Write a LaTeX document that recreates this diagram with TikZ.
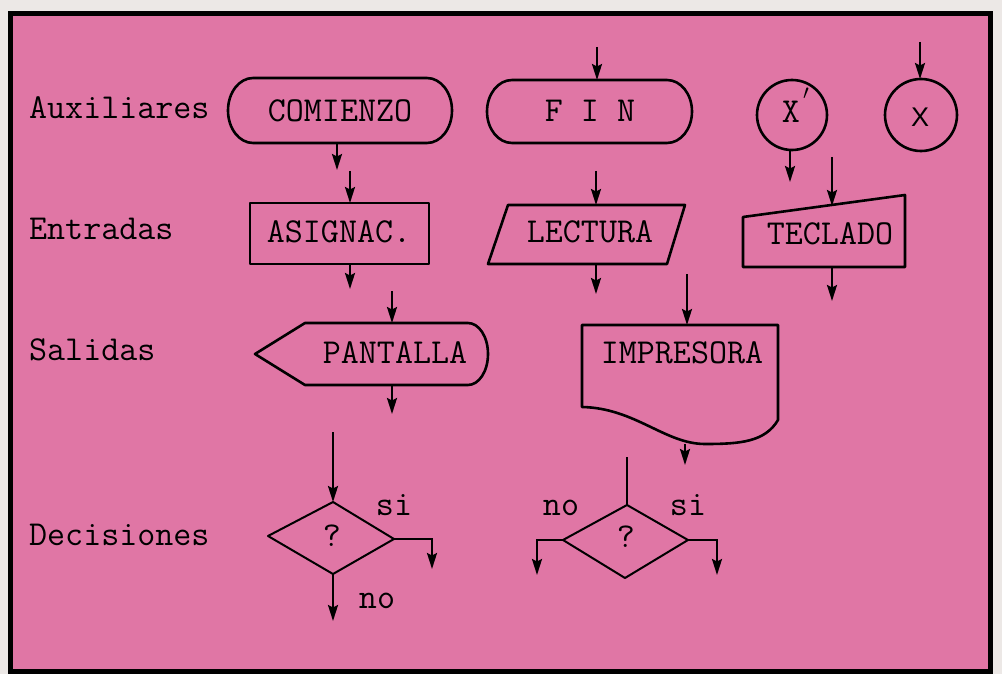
\documentclass[tikz,border=0pt]{standalone}
\usepackage{fontspec}
\setsansfont{Liberation Sans}
\usetikzlibrary{arrows.meta}
\definecolor{paper}{RGB}{236,232,230}
\definecolor{pinkbg}{RGB}{224,118,165}
\begin{document}
\begin{tikzpicture}[x=1pt,y=-1pt,
  shp/.style={draw=black,line width=2.6pt,line join=round},
  thin/.style={draw=black,line width=2pt,line join=round},
  arr/.style={draw=black,line width=2.2pt,-{Stealth[length=16pt,width=10pt,inset=2.5pt]}},
  lnk/.style={draw=black,line width=2.2pt},
  txt/.style={font=\ttfamily\fontsize{35pt}{37pt}\selectfont,inner sep=0pt,anchor=base,text=black},
  side/.style={txt,anchor=base west}]
\useasboundingbox (0,0) rectangle (1002,674);
\fill[paper] (0,0) rectangle (1002,674);
\filldraw[fill=pinkbg,draw=black,line width=5pt] (10,14) rectangle (990,671);

% row labels
\node[side] (aux) at (29,119) {Auxiliares};
\node[side] (ent) at (29,240) {Entradas};
\node[side] (sal) at (29,360) {Salidas};
\node[side] (dec) at (29,545) {Decisiones};

% ---- Auxiliares ----
\draw[shp] (253,78) -- (427,78) arc[start angle=-90,end angle=90,x radius=25,y radius=32.5]
  -- (253,143) arc[start angle=90,end angle=270,x radius=25,y radius=32.5] -- cycle;
\node[txt] (comienzo) at (340,122) {COMIENZO};
\coordinate (com-b) at (337,143);
\coordinate (com-o) at (337,170);

\draw[shp] (512,80) -- (667,80) arc[start angle=-90,end angle=90,x radius=25,y radius=31.5]
  -- (512,143) arc[start angle=90,end angle=270,x radius=25,y radius=31.5] -- cycle;
\node[txt] (fin) at (590,122) {F I N};
\coordinate (fin-i) at (597,47);
\coordinate (fin-t) at (597,80);

\draw[shp] (792,115) circle[radius=35];
\node[txt] (xp) at (791,123) {X};
\node[inner sep=0pt,font=\fontsize{20pt}{20pt}\selectfont] (prime) at (806,94) {$\prime$};
\coordinate (xp-b) at (790,150);
\coordinate (xp-o) at (790,182);

\draw[shp] (921,115) circle[radius=36];
\node[inner sep=0pt,anchor=base,font=\sffamily\fontsize{27pt}{27pt}\selectfont] (x) at (920,127) {X};
\coordinate (x-i) at (920,42);
\coordinate (x-t) at (920,79);

\draw[arr] (fin-i) -- (fin-t);
\draw[arr] (x-i) -- (x-t);
\draw[arr] (com-b) -- (com-o);
\draw[arr] (xp-b) -- (xp-o);

% ---- Entradas ----
\draw[shp] (250,203) rectangle (429,264);
\node[txt] (asig) at (339,242) {ASIGNAC.};
\coordinate (as-i) at (350,171);
\coordinate (as-t) at (350,203);
\coordinate (as-b) at (350,264);
\coordinate (as-o) at (350,289);

\draw[shp] (508,205) -- (685,205) -- (667,264) -- (488,264) -- cycle;
\node[txt] (lect) at (590,242) {LECTURA};
\coordinate (le-i) at (596,171);
\coordinate (le-t) at (596,205);
\coordinate (le-b) at (596,264);
\coordinate (le-o) at (596,294);

\draw[shp] (743,217) -- (905,195) -- (905,267) -- (743,267) -- cycle;
\node[txt] (tecl) at (830,244) {TECLADO};
\coordinate (te-i) at (832,157);
\coordinate (te-t) at (832,206);
\coordinate (te-b) at (832,267);
\coordinate (te-o) at (832,301);

\draw[arr] (as-i) -- (as-t);
\draw[arr] (as-b) -- (as-o);
\draw[arr] (le-i) -- (le-t);
\draw[arr] (le-b) -- (le-o);
\draw[arr] (te-i) -- (te-t);
\draw[arr] (te-b) -- (te-o);

% ---- Salidas ----
\draw[shp] (255,354) -- (305,323) -- (468,323) arc[start angle=-90,end angle=90,x radius=20,y radius=31]
  -- (305,385) -- cycle;
\node[txt] (pant) at (395,363) {PANTALLA};
\coordinate (pa-i) at (392,291);
\coordinate (pa-t) at (392,323);
\coordinate (pa-b) at (392,385);
\coordinate (pa-o) at (392,414);

\draw[shp] (582,325) -- (778,325) -- (778,420)
  .. controls (765,442) and (740,444) .. (705,444)
  .. controls (665,444) and (635,408) .. (582,407) -- cycle;
\node[txt] (impr) at (682,363) {IMPRESORA};
\coordinate (im-i) at (687,274);
\coordinate (im-t) at (687,325);
\coordinate (im-b) at (685,444);
\coordinate (im-o) at (685,465);

\draw[arr] (pa-i) -- (pa-t);
\draw[arr] (pa-b) -- (pa-o);
\draw[arr] (im-i) -- (im-t);
\draw[arr] (im-b) -- (im-o);

% ---- Decisiones ----
\draw[thin] (333,502) -- (394,539) -- (333,574) -- (268,536) -- cycle;
\node[txt] (q1) at (332,546) {?};
\node[txt] (si1) at (394,515) {si};
\node[txt] (no1) at (377,608) {no};
\coordinate (d1-i) at (333,432);
\coordinate (d1-t) at (333,502);
\coordinate (d1-r) at (394,539);
\coordinate (d1-ro) at (432,569);
\coordinate (d1-b) at (333,574);
\coordinate (d1-bo) at (333,621);
\draw[arr] (d1-i) -- (d1-t);
\draw[arr] (d1-r) -| (d1-ro);
\draw[arr] (d1-b) -- (d1-bo);

\draw[thin] (627,505) -- (688,540) -- (625,578) -- (563,540) -- cycle;
\node[txt] (q2) at (626,547) {?};
\node[txt] (no2) at (561,515) {no};
\node[txt] (si2) at (688,515) {si};
\coordinate (d2-i) at (627,457);
\coordinate (d2-t) at (627,505);
\coordinate (d2-l) at (563,540);
\coordinate (d2-lo) at (537,575);
\coordinate (d2-r) at (688,540);
\coordinate (d2-ro) at (717,575);
\draw[lnk] (d2-i) -- (d2-t);
\draw[arr] (d2-l) -| (d2-lo);
\draw[arr] (d2-r) -| (d2-ro);
\end{tikzpicture}
\end{document}
